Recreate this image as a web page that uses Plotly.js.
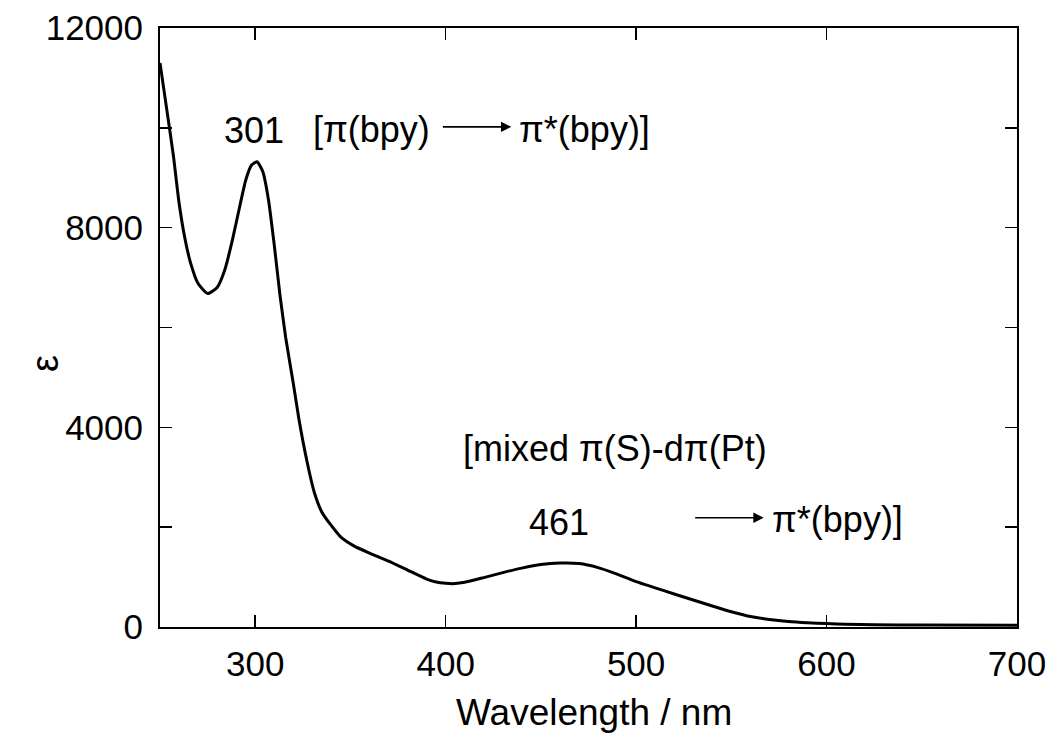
<!DOCTYPE html>
<html>
<head>
<meta charset="utf-8">
<script src="https://cdn.plot.ly/plotly-3.0.1.min.js"></script>
<style>html,body{margin:0;padding:0;background:#fff;}#chart{width:1052px;height:740px;}</style>
</head>
<body>
<div id="chart"></div>
<script>
// Absorption spectrum
const wavelength = [250,254,257,260,263,266,270,275,280,284,288,292,295,298,301,304,307,310,313,316,320,323,327,331,335,340,345,352,360,370,380,390,395,400,405,410,420,430,440,450,460,470,480,490,500,510,520,530,540,550,560,570,580,590,600,610,625,650,700];
const epsilon    = [11300,10250,9450,8500,7800,7300,6880,6680,6800,7150,7750,8450,8950,9250,9320,9120,8550,7650,6650,5800,4880,4150,3350,2700,2300,2030,1800,1620,1480,1320,1140,960,900,875,870,895,990,1090,1180,1250,1280,1270,1190,1060,910,785,660,540,420,305,210,150,110,85,68,55,45,40,35];

const xTickVals = [300,400,500,600,700];
const xTickText = ['300','400','500','600','700'];
const yTickVals = [0,2000,4000,6000,8000,10000,12000];
const yTickText = ['0','','4000','','8000','','12000'];

const peakLabels = ['301','461'];
const peakX = [299.3,459.4];
const peakY = [9940,2100];

const xTitle = 'Wavelength / nm';
const yTitle = 'ε';

const F = 'Liberation Sans, Arial, sans-serif';
const fnt = {family:F, size:35, color:'#000'};
const afnt = {family:F, size:36, color:'#000'};

const trace = {
  x: wavelength, y: epsilon, type:'scatter', mode:'lines',
  line:{color:'#000', width:3, shape:'spline', smoothing:0.5},
  hoverinfo:'skip'
};

const annotations = [
  {x:peakX[0], y:peakY[0], text:peakLabels[0], showarrow:false, font:afnt},
  {x:peakX[1], y:peakY[1], text:peakLabels[1], showarrow:false, font:afnt},
  {x:361, y:9960, text:'[π(bpy)', showarrow:false, font:afnt},
  {x:434.5, y:10020, text:'', showarrow:true, ax:-70, ay:0, arrowhead:2, arrowsize:1.3, arrowwidth:1.6, arrowcolor:'#000'},
  {x:473, y:9960, text:'π*(bpy)]', showarrow:false, font:afnt},
  {x:489, y:3570, text:'[mixed π(S)-dπ(Pt)', showarrow:false, font:afnt},
  {x:567, y:2190, text:'', showarrow:true, ax:-70, ay:0, arrowhead:2, arrowsize:1.3, arrowwidth:1.6, arrowcolor:'#000'},
  {x:606, y:2160, text:'π*(bpy)]', showarrow:false, font:afnt},
  {xref:'paper', yref:'paper', x:0.506, y:-0.142, yanchor:'middle', text:xTitle, showarrow:false, font:{family:F, size:37, color:'#000'}},
  {xref:'paper', yref:'paper', x:-0.161, y:0.439, text:yTitle, textangle:-90, showarrow:false, font:{family:F, size:38, color:'#000'}}
];

const layout = {
  width:1052, height:740,
  margin:{l:160, r:35, t:28, b:113},
  paper_bgcolor:'#fff', plot_bgcolor:'#fff',
  showlegend:false,
  font:fnt,
  xaxis:{
    range:[250,700], tickvals:xTickVals, ticktext:xTickText,
    ticks:'inside', ticklen:12, tickwidth:1.5, tickcolor:'#000',
    showline:true, linecolor:'#000', linewidth:2, mirror:'ticks',
    showgrid:false, zeroline:false,
    tickfont:fnt, ticklabelstandoff:5
  },
  yaxis:{
    range:[0,12000], tickvals:yTickVals, ticktext:yTickText,
    ticks:'inside', ticklen:12, tickwidth:1.5, tickcolor:'#000',
    showline:true, linecolor:'#000', linewidth:2, mirror:'ticks',
    showgrid:false, zeroline:false,
    tickfont:fnt, ticklabelstandoff:8
  },
  annotations: annotations
};

Plotly.newPlot('chart', [trace], layout, {staticPlot:true, displayModeBar:false});
</script>
</body>
</html>
